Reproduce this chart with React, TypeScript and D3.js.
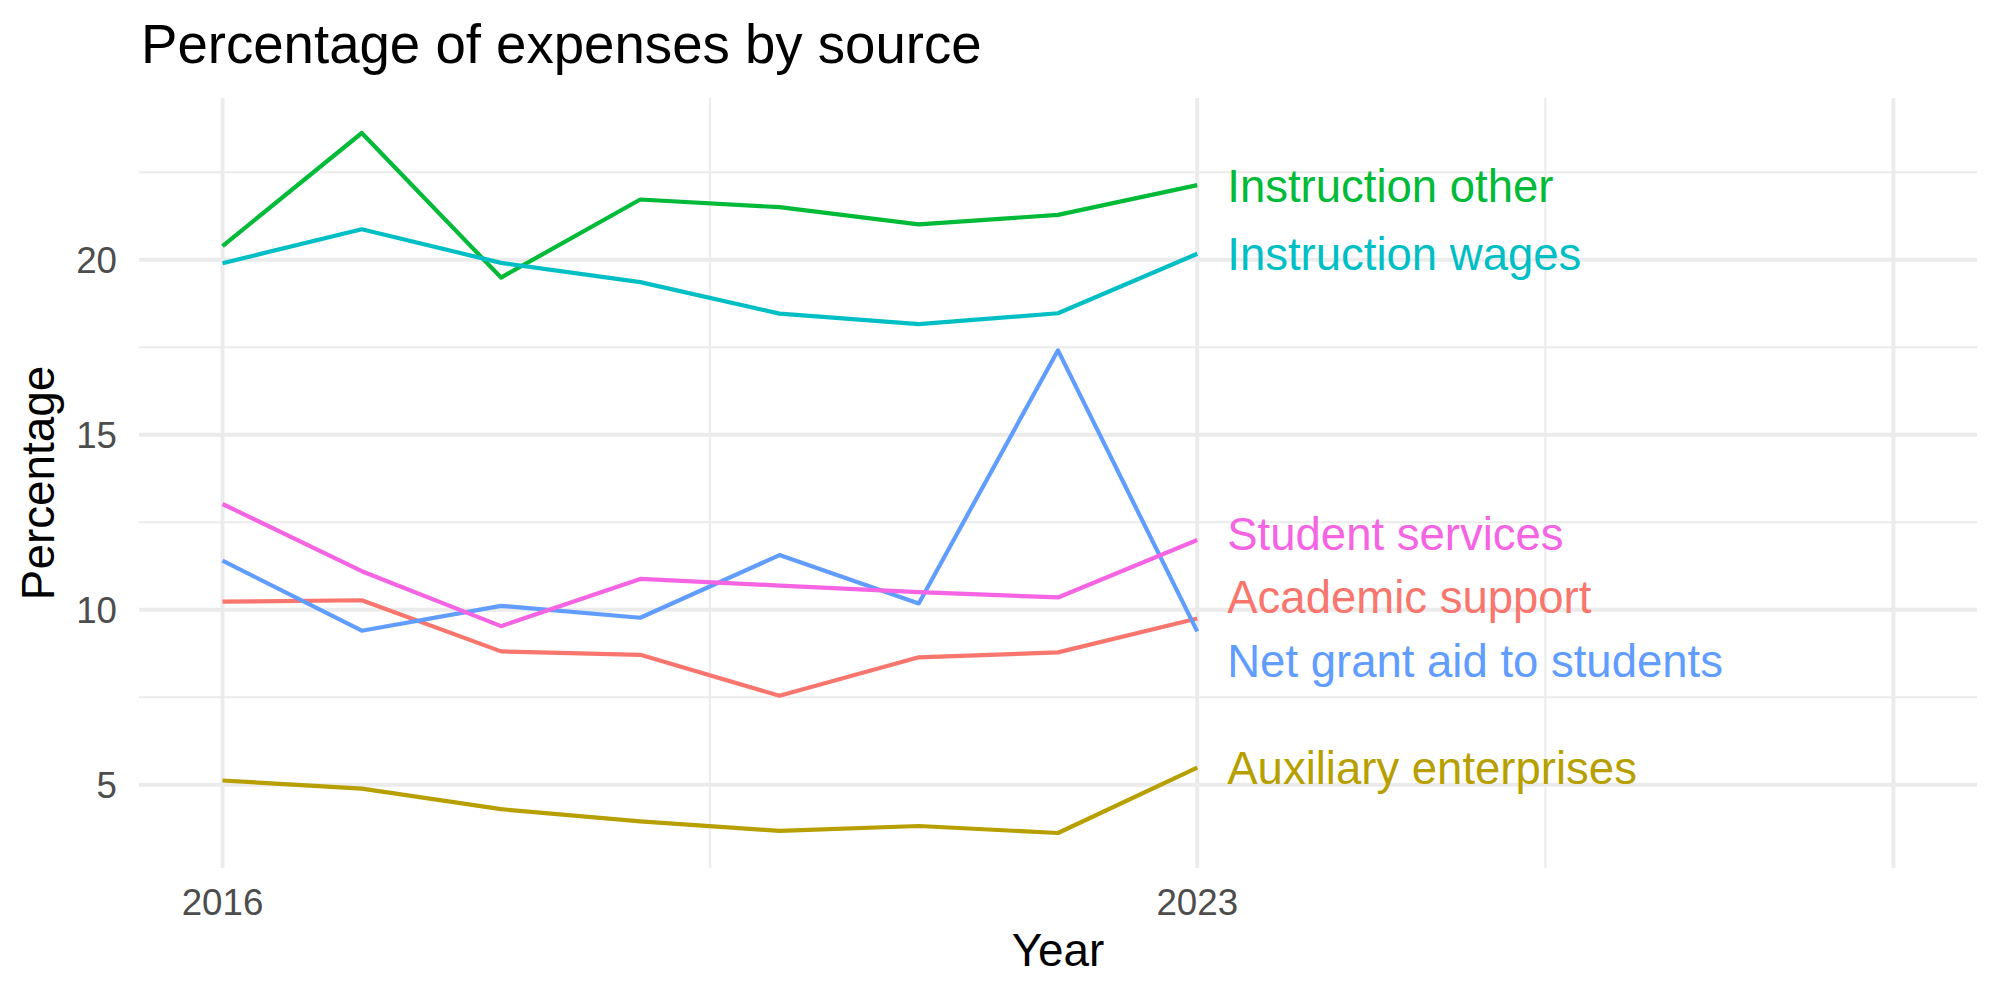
import React, { useEffect, useRef } from 'react';
import * as d3 from 'd3';

// data
const years = [2016, 2017, 2018, 2019, 2020, 2021, 2022, 2023];

const categories = [
  'Academic support',
  'Auxiliary enterprises',
  'Instruction other',
  'Instruction wages',
  'Net grant aid to students',
  'Student services',
];

const academicSupport = [10.23, 10.27, 8.81, 8.71, 7.54, 8.64, 8.78, 9.75];
const auxiliaryEnterprises = [5.12, 4.89, 4.3, 3.95, 3.68, 3.82, 3.62, 5.49];
const instructionOther = [20.39, 23.62, 19.49, 21.72, 21.5, 21.01, 21.28, 22.13];
const instructionWages = [19.9, 20.87, 19.91, 19.36, 18.46, 18.16, 18.47, 20.17];
const netGrantAid = [11.4, 9.4, 10.11, 9.77, 11.56, 10.18, 17.41, 9.38];
const studentServices = [13.02, 11.1, 9.53, 10.88, 10.69, 10.5, 10.35, 11.99];

const seriesValues = [
  academicSupport,
  auxiliaryEnterprises,
  instructionOther,
  instructionWages,
  netGrantAid,
  studentServices,
];

const colors = ['#F8766D', '#B79F00', '#00BA38', '#00BFC4', '#619CFF', '#F564E3'];

const xMajor = [2016, 2023, 2028];
const xMinor = [2019.5, 2025.5];
const xTickLabels = ['2016', '2023', ''];
const yMajor = [5, 10, 15, 20];
const yMinor = [7.5, 12.5, 17.5, 22.5];
const xLimits = [2016, 2028];

const App = () => {
  const ref = useRef<SVGSVGElement>(null);

  useEffect(() => {
    document.body.style.margin = '0';
    const svg = d3.select(ref.current);
    svg.selectAll('*').remove();

    const width = 2000;
    const height = 1000;
    const panel = { left: 139, right: 1977, top: 98, bottom: 868 };
    const font = '"Liberation Sans", Arial, Helvetica, sans-serif';

    svg.append('rect').attr('width', width).attr('height', height).attr('fill', 'white');

    // ggplot-style 5% expansion
    const xSpan = xLimits[1] - xLimits[0];
    const x = d3.scaleLinear()
      .domain([xLimits[0] - xSpan * 0.05, xLimits[1] + xSpan * 0.05])
      .range([panel.left, panel.right]);

    const all = seriesValues.flat();
    const yMin = d3.min(all) as number;
    const yMax = d3.max(all) as number;
    const ySpan = yMax - yMin;
    const y = d3.scaleLinear()
      .domain([yMin - ySpan * 0.05, yMax + ySpan * 0.05])
      .range([panel.bottom, panel.top]);

    const grid = svg.append('g');
    const grey = '#EBEBEB';

    // minor grid
    grid.selectAll('.ym').data(yMinor).enter().append('line')
      .attr('x1', panel.left).attr('x2', panel.right)
      .attr('y1', d => y(d)).attr('y2', d => y(d))
      .attr('stroke', grey).attr('stroke-width', 2);
    grid.selectAll('.xm').data(xMinor).enter().append('line')
      .attr('y1', panel.top).attr('y2', panel.bottom)
      .attr('x1', d => x(d)).attr('x2', d => x(d))
      .attr('stroke', grey).attr('stroke-width', 2);

    // major grid
    grid.selectAll('.yM').data(yMajor).enter().append('line')
      .attr('x1', panel.left).attr('x2', panel.right)
      .attr('y1', d => y(d)).attr('y2', d => y(d))
      .attr('stroke', grey).attr('stroke-width', 3.9);
    grid.selectAll('.xM').data(xMajor).enter().append('line')
      .attr('y1', panel.top).attr('y2', panel.bottom)
      .attr('x1', d => x(d)).attr('x2', d => x(d))
      .attr('stroke', grey).attr('stroke-width', 3.9);

    // lines
    const line = d3.line<number>()
      .x((_, i) => x(years[i]))
      .y(d => y(d));

    seriesValues.forEach((vals, i) => {
      svg.append('path')
        .attr('d', line(vals))
        .attr('fill', 'none')
        .attr('stroke', colors[i])
        .attr('stroke-width', 4.2)
        .attr('stroke-linejoin', 'round');
    });

    // end labels, nudged apart like ggrepel
    const labels = categories.map((name, i) => ({
      name,
      color: colors[i],
      y: y(seriesValues[i][seriesValues[i].length - 1]),
    }));
    const gap = 63.5;
    for (let iter = 0; iter < 200; iter++) {
      const sorted = [...labels].sort((a, b) => a.y - b.y);
      for (let k = 1; k < sorted.length; k++) {
        const d = sorted[k].y - sorted[k - 1].y;
        if (d < gap) {
          const push = (gap - d) / 2;
          sorted[k].y += push;
          sorted[k - 1].y -= push;
        }
      }
    }
    const labelX = x(years[years.length - 1]) + 30;
    svg.selectAll('.lab').data(labels).enter().append('text')
      .attr('x', labelX)
      .attr('y', d => d.y)
      .attr('dy', '0.36em')
      .attr('fill', d => d.color)
      .style('font-family', font)
      .style('font-size', '45.5px')
      .text(d => d.name);

    // axis tick labels
    svg.selectAll('.yt').data(yMajor).enter().append('text')
      .attr('x', 117)
      .attr('y', d => y(d))
      .attr('dy', '0.36em')
      .attr('text-anchor', 'end')
      .attr('fill', '#4D4D4D')
      .style('font-family', font)
      .style('font-size', '36.7px')
      .text(d => String(d));

    svg.selectAll('.xt').data(xMajor).enter().append('text')
      .attr('x', d => x(d))
      .attr('y', 915)
      .attr('text-anchor', 'middle')
      .attr('fill', '#4D4D4D')
      .style('font-family', font)
      .style('font-size', '36.7px')
      .text((_, i) => xTickLabels[i]);

    // axis titles
    svg.append('text')
      .attr('x', (panel.left + panel.right) / 2)
      .attr('y', 966)
      .attr('text-anchor', 'middle')
      .attr('fill', 'black')
      .style('font-family', font)
      .style('font-size', '45.8px')
      .text('Year');

    svg.append('text')
      .attr('transform', `translate(54, ${(panel.top + panel.bottom) / 2}) rotate(-90)`)
      .attr('text-anchor', 'middle')
      .attr('fill', 'black')
      .style('font-family', font)
      .style('font-size', '45.8px')
      .text('Percentage');

    // title
    svg.append('text')
      .attr('x', 141)
      .attr('y', 63)
      .attr('fill', 'black')
      .style('font-family', font)
      .style('font-size', '54.6px')
      .text('Percentage of expenses by source');
  }, []);

  return <svg ref={ref} width={2000} height={1000} style={{ display: 'block' }}></svg>;
};

export default App;
